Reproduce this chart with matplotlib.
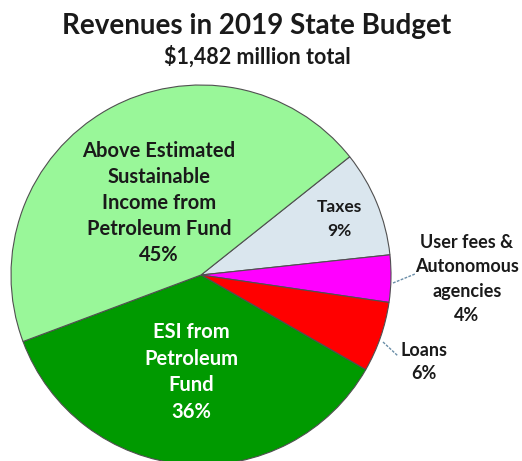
import matplotlib
matplotlib.use("Agg")
import matplotlib.pyplot as plt

categories = ["Taxes", "User fees &\nAutonomous\nagencies", "Loans",
              "ESI from\nPetroleum\nFund",
              "Above Estimated\nSustainable\nIncome from\nPetroleum Fund"]
shares = [9, 4, 6, 36, 45]
colors = ["#DAE6EE", "#FF00FF", "#FF0000", "#009A00", "#99F799"]
title = "Revenues in 2019 State Budget"
subtitle = "$1,482 million total"

W, H = 522, 461
fig = plt.figure(figsize=(W / 100, H / 100), dpi=100)
ax = fig.add_axes([0, 0, 1, 1])

cx, cy, r = 201, H - 275, 190
ax.pie(shares, colors=colors, startangle=38.5, counterclock=False,
       center=(cx, cy), radius=r, frame=True,
       wedgeprops=dict(edgecolor="#505050", linewidth=0.8))
ax.set_xlim(0, W)
ax.set_ylim(0, H)
ax.set_aspect("equal")
ax.axis("off")

font = "Lato"
lab = [f"{c}\n{s}%" for c, s in zip(categories, shares)]
kw = dict(ha="center", va="center", fontweight="bold", family=font)
ax.text(339, H - 219, lab[0], color="#1a1a1a", fontsize=12.5,
        linespacing=1.55, **kw)
ax.text(467, H - 279, lab[1], color="#1a1a1a", fontsize=13,
        linespacing=1.52, **kw)
ax.text(424, H - 362, lab[2], color="#1a1a1a", fontsize=13,
        linespacing=1.42, **kw)
ax.text(191, H - 372, lab[3], color="white", fontsize=14.5,
        linespacing=1.4, **kw)
ax.text(159, H - 203, lab[4], color="#1a1a1a", fontsize=14.5,
        linespacing=1.39, **kw)

# leader lines
ax.plot([393, 415], [H - 283, H - 274], color="#6a8ea8", lw=1,
        linestyle=(0, (2, 1)))
ax.plot([383, 398], [H - 342, H - 356], color="#6a8ea8", lw=1,
        linestyle=(0, (2, 1)))

fig.text(0.492, 1 - 26 / H, title, ha="center", va="center",
         fontsize=20, fontweight="bold", family=font, color="#1a1a1a")
fig.text(0.494, 1 - 57 / H, subtitle, ha="center", va="center",
         fontsize=15.5, fontweight="bold", family=font, color="#1a1a1a")

fig.savefig("out.png", dpi=100)
